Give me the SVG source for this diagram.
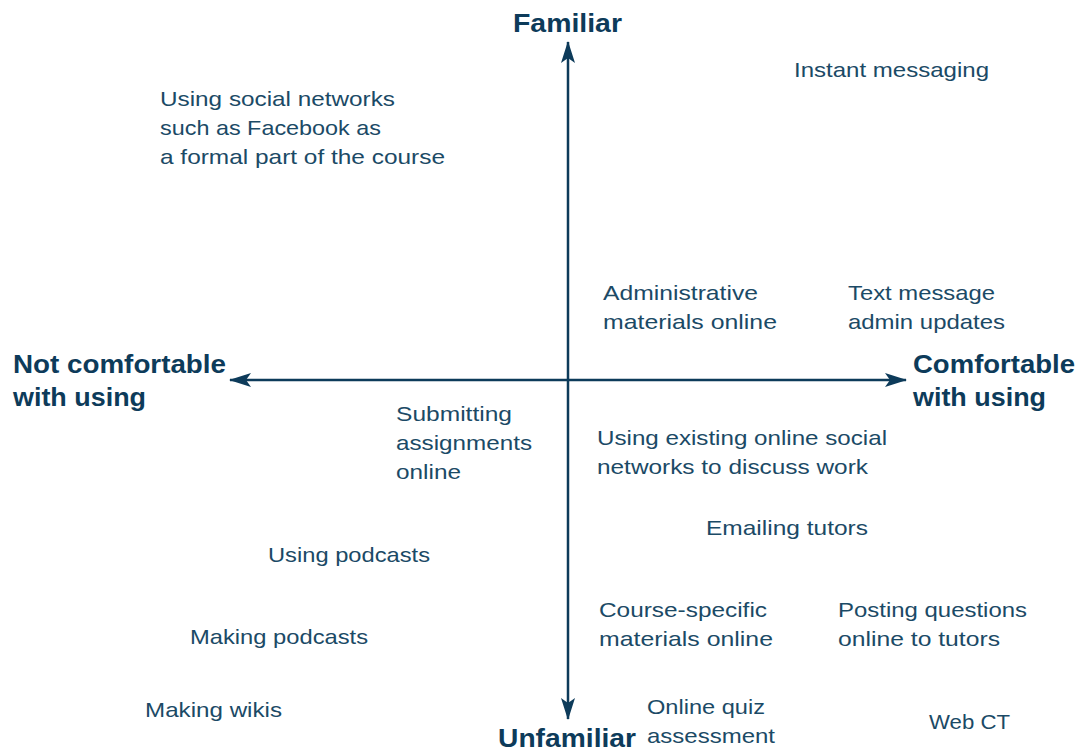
<svg xmlns="http://www.w3.org/2000/svg" width="1079" height="751" viewBox="0 0 1079 751">
<style>
.t{font-family:"Liberation Sans",Arial,sans-serif;font-size:21px;fill:#1b4a66}
.b{font-family:"Liberation Sans",Arial,sans-serif;font-size:26px;font-weight:bold;fill:#0d3b5a}
.ax{stroke:#0d3b5a;stroke-width:2.5;fill:none}
</style>
<defs>
<marker id="ah" viewBox="0 0 22 14" refX="21" refY="7" markerWidth="22" markerHeight="14" markerUnits="userSpaceOnUse" orient="auto">
<path d="M0,0 L22,7 L0,14 L5,7 Z" fill="#0d3b5a"/>
</marker>
</defs>
<rect width="1079" height="751" fill="#ffffff"/>
<g id="connectors">
<line class="ax" x1="568" y1="380" x2="568" y2="42" marker-end="url(#ah)"/>
<line class="ax" x1="568" y1="380" x2="568" y2="719" marker-end="url(#ah)"/>
<line class="ax" x1="568" y1="380" x2="230" y2="380" marker-end="url(#ah)"/>
<line class="ax" x1="568" y1="380" x2="906" y2="380" marker-end="url(#ah)"/>
</g>
<g id="familiar"><text class="b" x="513" y="32" textLength="109" lengthAdjust="spacingAndGlyphs">Familiar</text></g>
<g id="unfamiliar"><text class="b" x="498" y="747" textLength="138" lengthAdjust="spacingAndGlyphs">Unfamiliar</text></g>
<g id="not-comfortable">
<text class="b" x="13" y="373" textLength="213" lengthAdjust="spacingAndGlyphs">Not comfortable</text>
<text class="b" x="13" y="406" textLength="133" lengthAdjust="spacingAndGlyphs">with using</text>
</g>
<g id="comfortable">
<text class="b" x="913" y="373" textLength="162" lengthAdjust="spacingAndGlyphs">Comfortable</text>
<text class="b" x="913" y="406" textLength="133" lengthAdjust="spacingAndGlyphs">with using</text>
</g>
<g id="instant-messaging"><text class="t" x="794" y="77" textLength="195" lengthAdjust="spacingAndGlyphs">Instant messaging</text></g>
<g id="social-networks-formal">
<text class="t" x="160" y="106" textLength="235" lengthAdjust="spacingAndGlyphs">Using social networks</text>
<text class="t" x="160" y="135" textLength="221" lengthAdjust="spacingAndGlyphs">such as Facebook as</text>
<text class="t" x="160" y="164" textLength="285" lengthAdjust="spacingAndGlyphs">a formal part of the course</text>
</g>
<g id="admin-materials">
<text class="t" x="603" y="300" textLength="155" lengthAdjust="spacingAndGlyphs">Administrative</text>
<text class="t" x="603" y="329" textLength="174" lengthAdjust="spacingAndGlyphs">materials online</text>
</g>
<g id="text-message">
<text class="t" x="848" y="300" textLength="147" lengthAdjust="spacingAndGlyphs">Text message</text>
<text class="t" x="848" y="329" textLength="157" lengthAdjust="spacingAndGlyphs">admin updates</text>
</g>
<g id="submitting">
<text class="t" x="396" y="421" textLength="116" lengthAdjust="spacingAndGlyphs">Submitting</text>
<text class="t" x="396" y="450" textLength="136" lengthAdjust="spacingAndGlyphs">assignments</text>
<text class="t" x="396" y="479" textLength="65" lengthAdjust="spacingAndGlyphs">online</text>
</g>
<g id="existing-social">
<text class="t" x="597" y="445" textLength="290" lengthAdjust="spacingAndGlyphs">Using existing online social</text>
<text class="t" x="597" y="474" textLength="271" lengthAdjust="spacingAndGlyphs">networks to discuss work</text>
</g>
<g id="emailing"><text class="t" x="706" y="535" textLength="162" lengthAdjust="spacingAndGlyphs">Emailing tutors</text></g>
<g id="using-podcasts"><text class="t" x="268" y="562" textLength="162" lengthAdjust="spacingAndGlyphs">Using podcasts</text></g>
<g id="course-specific">
<text class="t" x="599" y="617" textLength="168" lengthAdjust="spacingAndGlyphs">Course-specific</text>
<text class="t" x="599" y="646" textLength="174" lengthAdjust="spacingAndGlyphs">materials online</text>
</g>
<g id="posting-questions">
<text class="t" x="838" y="617" textLength="189" lengthAdjust="spacingAndGlyphs">Posting questions</text>
<text class="t" x="838" y="646" textLength="162" lengthAdjust="spacingAndGlyphs">online to tutors</text>
</g>
<g id="making-podcasts"><text class="t" x="190" y="644" textLength="178" lengthAdjust="spacingAndGlyphs">Making podcasts</text></g>
<g id="making-wikis"><text class="t" x="145" y="717" textLength="137" lengthAdjust="spacingAndGlyphs">Making wikis</text></g>
<g id="online-quiz">
<text class="t" x="647" y="714" textLength="118" lengthAdjust="spacingAndGlyphs">Online quiz</text>
<text class="t" x="647" y="743" textLength="128" lengthAdjust="spacingAndGlyphs">assessment</text>
</g>
<g id="web-ct"><text class="t" x="929" y="729" textLength="81" lengthAdjust="spacingAndGlyphs">Web CT</text></g>
</svg>
